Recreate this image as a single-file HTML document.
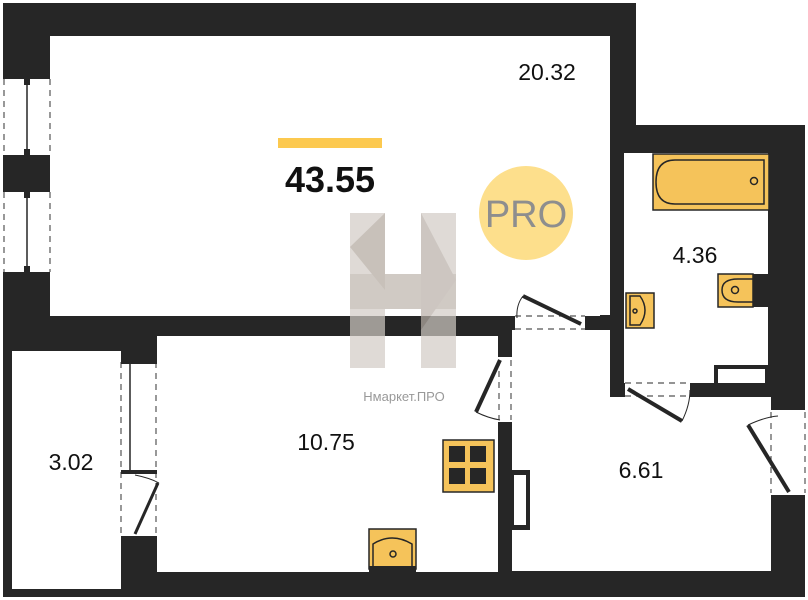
<!DOCTYPE html>
<html><head><meta charset="utf-8"><style>html,body{margin:0;padding:0;background:#fff}svg{display:block}</style></head>
<body>
<svg width="808" height="600" viewBox="0 0 808 600" xmlns="http://www.w3.org/2000/svg" font-family="Liberation Sans, DejaVu Sans, sans-serif">
<rect width="808" height="600" fill="#fff"/>
<g fill="#262626">
<rect x="3" y="3" width="633" height="34"/>
<rect x="3" y="3" width="47" height="348"/>
<rect x="600" y="3" width="36" height="140"/>
<rect x="600" y="125" width="205" height="40"/>
<rect x="3" y="316" width="802" height="281"/>
<rect x="600" y="125" width="24" height="275"/>
<rect x="765" y="125" width="40" height="472"/>
</g>
<g fill="#fff">
<rect x="50" y="36" width="560" height="279"/>
<rect x="624" y="153" width="144" height="230"/>
<rect x="12" y="351" width="109" height="238"/>
<rect x="157" y="336" width="341" height="236"/>
<rect x="512" y="397" width="259" height="174"/>
<rect x="512" y="330" width="98" height="70"/>
<rect x="498" y="357" width="14" height="65"/>
<rect x="515" y="316" width="70" height="14"/>
<rect x="625" y="383" width="65" height="14"/>
<rect x="771" y="410" width="34" height="85"/>
<rect x="121" y="360" width="36" height="180"/>
<rect x="3" y="79" width="47" height="76"/>
<rect x="3" y="192" width="47" height="80"/>
</g>
<rect x="714" y="365" width="54" height="18" fill="#262626"/>
<rect x="718" y="369" width="47" height="14" fill="#fff"/>
<rect x="610" y="316" width="14" height="81" fill="#262626"/>
<g stroke="#555" stroke-width="1.2" stroke-dasharray="6,5" fill="none">
<line x1="4" y1="79" x2="4" y2="155"/><line x1="50" y1="79" x2="50" y2="155"/>
<line x1="4" y1="192" x2="4" y2="272"/><line x1="50" y1="192" x2="50" y2="272"/>
<line x1="121" y1="362" x2="121" y2="538"/><line x1="156" y1="362" x2="156" y2="538"/>
<line x1="515" y1="316" x2="585" y2="316"/><line x1="515" y1="329" x2="585" y2="329"/>
<line x1="499" y1="360" x2="499" y2="420"/><line x1="511" y1="360" x2="511" y2="420"/>
<line x1="625" y1="383" x2="690" y2="383"/><line x1="625" y1="396" x2="690" y2="396"/>
<line x1="771" y1="412" x2="771" y2="493"/><line x1="805" y1="412" x2="805" y2="493"/>
</g>
<g stroke="#262626" stroke-width="1.5">
<line x1="27" y1="79" x2="27" y2="155"/><line x1="27" y1="192" x2="27" y2="272"/>
<line x1="130" y1="364" x2="130" y2="470"/>
</g>
<g fill="#262626">
<rect x="3" y="75" width="47" height="4"/><rect x="3" y="155" width="47" height="5"/>
<rect x="3" y="188" width="47" height="4"/><rect x="3" y="272" width="47" height="4"/>
<rect x="24" y="79" width="6" height="6"/><rect x="24" y="149" width="6" height="6"/>
<rect x="24" y="192" width="6" height="6"/><rect x="24" y="266" width="6" height="6"/>
<rect x="121" y="360" width="36" height="4"/><rect x="121" y="536" width="36" height="4"/>
<rect x="121" y="470" width="36" height="4"/>
</g>
<g stroke="#262626" fill="none">
<line x1="523" y1="296" x2="581" y2="324" stroke-width="4"/>
<path d="M523 296 Q516 305 517 318" stroke-width="1"/>
<line x1="500" y1="360" x2="476" y2="412" stroke-width="4"/>
<path d="M476 412 Q488 418 500 420" stroke-width="1"/>
<line x1="628" y1="389" x2="682" y2="421" stroke-width="4"/>
<path d="M682 421 Q690 405 690 390" stroke-width="1"/>
<line x1="748" y1="425" x2="789" y2="492" stroke-width="4"/>
<path d="M748 425 Q765 417 778 416" stroke-width="1"/>
<line x1="158" y1="483" x2="135" y2="534" stroke-width="3"/>
<path d="M135 475 Q150 478 159 483" stroke-width="1"/>
</g>
<rect x="512" y="470" width="18" height="60" fill="#262626"/>
<rect x="514" y="475" width="12" height="50" fill="#fff"/>
<g stroke="#262626" stroke-width="1.5">
<rect x="653" y="154" width="116" height="56" fill="#f5c35a"/>
<path d="M675 160 H764 V204 H675 Q656 204 656 182 Q656 160 675 160Z" fill="#f5c35a"/>
<circle cx="754" cy="181" r="3.5" fill="none"/>
<rect x="718" y="274" width="35" height="33" fill="#f5c35a"/>
<path d="M753 279 H738 Q722 279 722 290 Q722 302 738 302 H753" fill="none"/>
<circle cx="735" cy="290" r="3.5" fill="none"/>
<rect x="626" y="293" width="28" height="35" fill="#f5c35a"/>
<path d="M630 296 H640 Q650 310 640 325 H630Z" fill="none"/>
<circle cx="635" cy="311" r="2" fill="none"/>
<rect x="443" y="440" width="51" height="52" fill="#f5c35a"/>
<rect x="369" y="529" width="47" height="40" fill="#f5c35a"/>
<path d="M373 566 V544 Q392 532 412 544 V566" fill="none"/>
<circle cx="393" cy="554" r="3" fill="none"/>
</g>
<rect x="753" y="274" width="17" height="33" fill="#262626"/>
<rect x="369" y="566" width="47" height="6" fill="#262626"/>
<g fill="#262626">
<rect x="449" y="446" width="16" height="16"/><rect x="470" y="446" width="16" height="16"/>
<rect x="449" y="468" width="16" height="16"/><rect x="470" y="468" width="16" height="16"/>
</g>
<g opacity="0.7">
<rect x="350" y="213" width="35" height="155" fill="#d2cbc5"/>
<rect x="421" y="213" width="35" height="155" fill="#d2cbc5"/>
<rect x="350" y="274" width="106" height="35" fill="#bdb4ac"/>
<polygon points="350,247 385,213 385,290" fill="#b1a79e"/>
<polygon points="421,213 456,280 421,330" fill="#b8afa7"/>
</g>
<text x="404" y="401" font-size="13" fill="#999" text-anchor="middle">Нмаркет.ПРО</text>
<circle cx="526" cy="213" r="47" fill="#fddf8c"/>
<text x="526" y="227" font-size="38" fill="#8e8e8e" text-anchor="middle">PRO</text>
<rect x="278" y="138" width="104" height="10" fill="#fcc94f"/>
<text x="330" y="192" font-size="36" font-weight="bold" fill="#111" text-anchor="middle">43.55</text>
<g font-size="23" fill="#111" text-anchor="middle">
<text x="547" y="80">20.32</text>
<text x="695" y="263">4.36</text>
<text x="326" y="450">10.75</text>
<text x="71" y="470">3.02</text>
<text x="641" y="478">6.61</text>
</g>
</svg>
</body></html>
